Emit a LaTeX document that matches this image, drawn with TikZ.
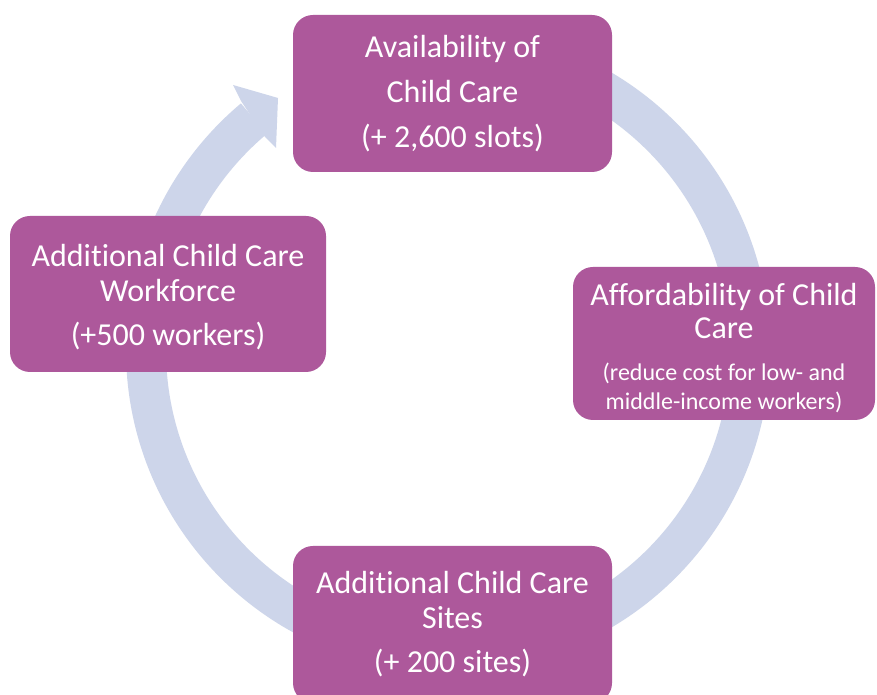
\documentclass[tikz,border=0pt]{standalone}
\usepackage{fontspec}
\setmainfont{Carlito}[Ligatures=NoCommon]
\definecolor{boxc}{RGB}{173,88,155}
\definecolor{ringc}{RGB}{205,213,234}
\newcommand\mysmallf{\fontsize{24}{25}\selectfont}
\tikzset{
  cbox/.style={fill=boxc, rounded corners=20pt, text=white, align=center, inner sep=0pt},
  bigtxt/.style={font=\fontsize{32}{35}\selectfont},
}
\begin{document}
\begin{tikzpicture}[x=1pt,y=1pt]
\clip (0,0) rectangle (877,695);
\fill[white] (0,0) rectangle (877,695);
\coordinate (c) at (448,345);
% ring with arrow
\draw[ringc, line width=40pt] (c) ++(90:302) arc[start angle=90, end angle=-230, radius=302];
\fill[ringc] (233,610) -- (278,597) -- (276,547) -- (265,558) -- (241,594) -- cycle;
% boxes
\node[cbox, bigtxt, minimum width=319pt, minimum height=157pt] (top) at (452.5,601.5)
  {Availability of\\[10pt]Child Care\\[10pt](+ 2,600 slots)};
\node[cbox, font=\fontsize{32}{33}\selectfont, minimum width=302pt, minimum height=153pt] (right) at (724,351.5)
  {\rule{0pt}{32pt}Affordability of Child\\Care\\[9pt]\mysmallf (reduce cost for low- and\\[-4pt]\mysmallf middle-income workers)};
\node[cbox, bigtxt, minimum width=319pt, minimum height=157pt] (bottom) at (452.5,70.5)
  {Additional Child Care\\Sites\\[9pt](+ 200 sites)};
\node[cbox, bigtxt, minimum width=316pt, minimum height=156pt] (left) at (168,401)
  {\rule{0pt}{28pt}Additional Child Care\\Workforce\\[9pt](+500 workers)};
\end{tikzpicture}
\end{document}
